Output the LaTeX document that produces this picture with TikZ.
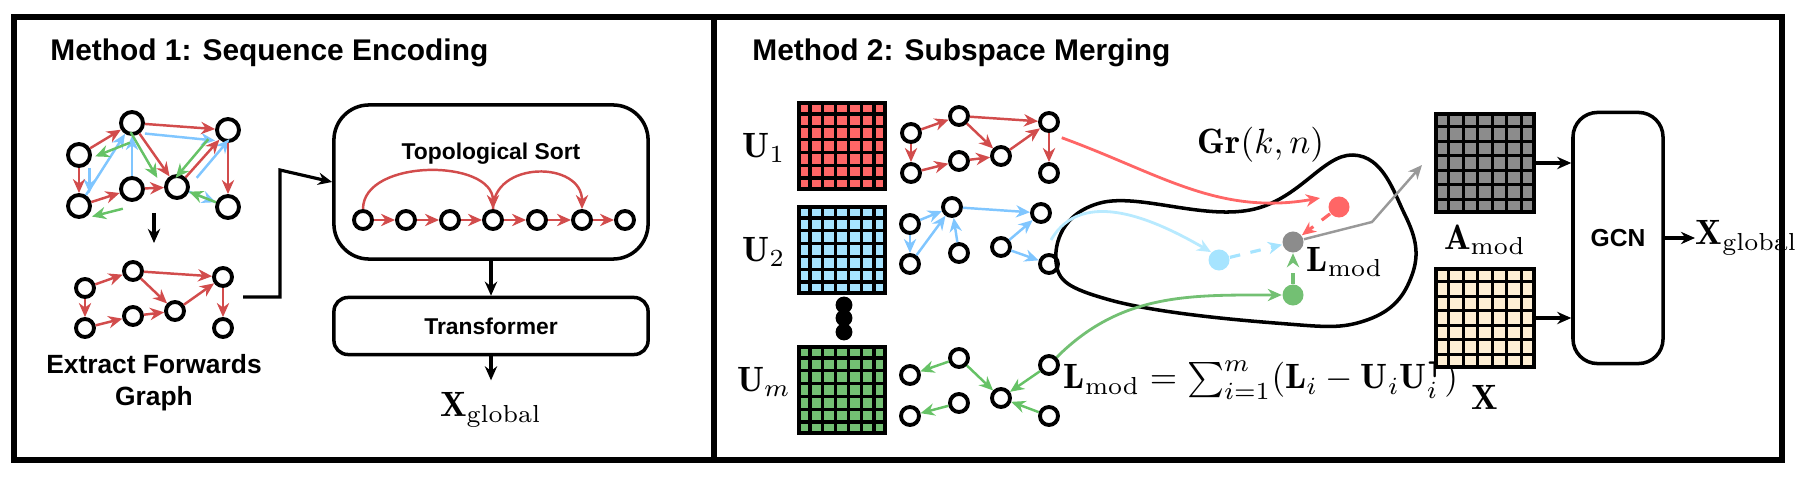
\documentclass[tikz,border=0pt]{standalone}
\usepackage{amsmath,amssymb}
\usepackage{fontspec}
\setsansfont{Liberation Sans}
\usetikzlibrary{calc,arrows.meta}
\tikzset{>={Stealth[length=4pt,width=3.5pt]}}
\colorlet{ered}{red!75!black!70!white}
\colorlet{eblue}{blue!45!cyan!50!white}
\colorlet{egreen}{green!60!black!60!white}
\colorlet{mred}{red!60!white}
\colorlet{mblue}{blue!30!cyan!35!white}
\colorlet{mgreen}{green!55!black!55!white}
\colorlet{mgray}{black!45}
\colorlet{myellow}{yellow!25!orange!15!white}
\tikzstyle{vtx}=[circle,draw,line width=1.1pt,minimum size=0.22cm,inner sep=0]
\tikzstyle{svtx}=[vtx,minimum size=0.18cm]
\tikzstyle{er}=[->,ered,line width=0.7pt]
\tikzstyle{eb}=[->,eblue,line width=0.7pt]
\tikzstyle{eg}=[->,egreen,line width=0.7pt]
\tikzstyle{box}=[draw,line width=1pt,rounded corners=8pt]
\tikzstyle{flow}=[->,line width=0.9pt]
\tikzstyle{title}=[font=\sffamily\bfseries\fontsize{8.5}{10}\selectfont,anchor=west]
\tikzstyle{lbl}=[font=\sffamily\bfseries\fontsize{6.5}{8}\selectfont,align=center]
\tikzstyle{dot}=[circle,minimum size=0.21cm,inner sep=0]
\tikzstyle{mat}=[draw,line width=1pt,minimum size=0.86cm,inner sep=0]
% 7x7 grid inside a matrix node
\def\grid#1{
  \foreach \i in {1,...,6}{
    \draw[line width=0.9pt] ($(#1.north west)!\i/7!(#1.north east)$) -- ($(#1.south west)!\i/7!(#1.south east)$);
    \draw[line width=0.9pt] ($(#1.north west)!\i/7!(#1.south west)$) -- ($(#1.north east)!\i/7!(#1.south east)$);
  }
}
% forward graph: #1 prefix, #2 x, #3 y, #4 edge style
\def\fwd#1#2#3#4{
  \node[svtx] (#1a) at (#2,#3+15) {};
  \node[svtx] (#1b) at (#2+48,#3-2) {};
  \node[svtx] (#1c) at (#2+138,#3+4) {};
  \node[svtx] (#1d) at (#2,#3+55) {};
  \node[svtx] (#1e) at (#2+48,#3+43) {};
  \node[svtx] (#1f) at (#2+90,#3+38) {};
  \node[svtx] (#1g) at (#2+138,#3+55) {};
}
\begin{document}
\begin{tikzpicture}[x=0.01cm,y=-0.01cm]
  \useasboundingbox (0,0) rectangle (1800,479);
  % PANELS
  \draw[line width=1.6pt] (14,17) rectangle (714,460);
  \draw[line width=1.6pt] (714,17) rectangle (1782,460);
  \node[title] (t1) at (38,53) {Method 1: Sequence Encoding};
  \node[title] (t2) at (740,53) {Method 2: Subspace Merging};

  % ORIGINAL GRAPH
  \node[vtx] (n1) at (79,155) {};
  \node[vtx] (n2) at (132,123) {};
  \node[vtx] (n3) at (228,130) {};
  \node[vtx] (n4) at (79,206) {};
  \node[vtx] (n5) at (132,189) {};
  \node[vtx] (n6) at (177,187) {};
  \node[vtx] (n7) at (228,207) {};
  \draw[eb] ([xshift=3]n1.south) -- ([xshift=3]n4.north);
  \draw[eb] (n4) -- (n2);
  \draw[eb] (n5) -- (n2);
  \draw[eb] ([yshift=-3]n2.east) -- ([yshift=-3]n3.west);
  \draw[eb] (n6) -- (n7);
  \draw[eb] ([xshift=3]n6.north east) -- ([xshift=3]n3.south west);
  \draw[eg] ([xshift=2,yshift=-3]n2.south west) -- ([xshift=2,yshift=-3]n1.north east);
  \draw[eg] ([yshift=-3]n5.south west) -- ([yshift=-3]n4.east);
  \draw[eg] ([xshift=-3]n2.south east) -- ([xshift=-3]n6.north west);
  \draw[eg] ([xshift=-3]n3.south west) -- ([xshift=-3]n6.north east);
  \draw[eg] (n7) -- (n6);
  \foreach \s/\t in {n1/n2,n2/n3,n1/n4,n4/n5,n5/n6,n2/n6,n6/n3,n3/n7}
    \draw[er] (\s) -- (\t);
  \coordinate (d1) at (154,213);
  \coordinate (d2) at (154,243);
  \draw[flow] (d1) -- (d2);

  % FORWARDS GRAPH
  \fwd{f}{85}{273}{er}
  \foreach \s/\t in {a/b,b/c,a/d,d/e,e/f,b/f,f/c,c/g}
    \draw[er] (f\s) -- (f\t);
  \node[lbl,font=\sffamily\bfseries\fontsize{7.5}{9}\selectfont] (fl) at (154,383) {Extract Forwards\\Graph};

  % TOPOLOGICAL SORT
  \node[box,minimum width=3.14cm,minimum height=1.54cm,rounded corners=10pt] (topo) at (491,182) {};
  \node[lbl] (tl) at (491,154) {Topological Sort};
  \foreach \x [count=\i] in {363,406,450,493,537,582,625}
    \node[svtx] (c\i) at (\x,220) {};
  \foreach \i [evaluate=\i as \j using int(\i+1)] in {1,...,6}
    \draw[er] (c\i) -- (c\j);
  \draw[er] (c1.north) to[out=90,in=90,looseness=1] (c4.north);
  \draw[er] (c4.north) to[out=90,in=90,looseness=1.4] (c6.north);
  \coordinate (e1) at (243,297);
  \draw[flow] (e1) -| (280,170) -- (topo.west);
  \node[box,minimum width=3.14cm,minimum height=0.57cm,rounded corners=4pt] (tr) at (491,326) {};
  \node[lbl] (trl) at (tr) {Transformer};
  \draw[flow] (topo) -- (tr);
  \node (xg1) at (491,410) {$\mathbf{X}_{\text{global}}$};
  \draw[flow] (tr) -- (xg1);

  % SUBSPACES
  \node (u1) at (764,148) {$\mathbf{U}_1$};
  \node (u2) at (764,252) {$\mathbf{U}_2$};
  \node (um) at (764,382) {$\mathbf{U}_m$};
  \node[mat,fill=mred] (m1) at (842,146) {};
  \node[mat,fill=mblue] (m2) at (842,250) {};
  \node[mat,fill=mgreen] (m3) at (842,390) {};
  \grid{m1} \grid{m2} \grid{m3}
  \foreach \y in {305,318,332}
    \fill (844,\y) circle (2.4pt);

  \fwd{r}{911}{118}{er}
  \foreach \s/\t in {a/b,b/c,a/d,d/e,e/f,b/f,f/c,c/g}
    \draw[er] (r\s) -- (r\t);
  \node[svtx] (p1) at (910,224) {};
  \node[svtx] (p2) at (952,207) {};
  \node[svtx] (p3) at (1041,213) {};
  \node[svtx] (p4) at (910,264) {};
  \node[svtx] (p5) at (959,253) {};
  \node[svtx] (p6) at (1001,247) {};
  \node[svtx] (p7) at (1049,264) {};
  \foreach \s/\t in {1/2,2/3,1/4,4/2,5/2,6/3,6/7}
    \draw[eb] (p\s) -- (p\t);
  \node[svtx] (q1) at (910,375) {};
  \node[svtx] (q2) at (959,358) {};
  \node[svtx] (q3) at (1049,365) {};
  \node[svtx] (q4) at (910,416) {};
  \node[svtx] (q5) at (959,403) {};
  \node[svtx] (q6) at (1001,398) {};
  \node[svtx] (q7) at (1049,416) {};
  \foreach \s/\t in {2/1,2/6,3/6,7/6,5/4}
    \draw[eg] (q\s) -- (q\t);

  % GRASSMANNIAN
  \draw[line width=1pt] plot[smooth cycle,tension=0.7] coordinates
    {(1100,203) (1250,210) (1353,155) (1405,215) (1412,275) (1367,320) (1275,323) (1110,300) (1056,262)};
  \node (gr) at (1261,145) {$\mathbf{Gr}(k,n)$};
  \node[dot,fill=mred] (pr) at (1339,207) {};
  \node[dot,fill=mgray] (pg) at (1293,242) {};
  \node[dot,fill=mblue] (pb) at (1219,260) {};
  \node[dot,fill=mgreen] (pm) at (1293,295) {};
  \node (lm) at (1345,262) {$\mathbf{L}_{\text{mod}}$};
  \coordinate (rt) at (1320,198);
  \draw[->,mred,line width=0.8pt] (rc.south east) ++(5,8) to[out=-20,in=190] (rt);
  \draw[->,mblue!80!white,line width=0.8pt] (1051,240) to[out=60,in=150] (pb.north west);
  \draw[->,mgreen,line width=0.8pt] (q3.north east) to[out=45,in=180] (pm.west);
  \draw[->,dashed,mred,line width=0.9pt] (pr) -- (pg);
  \draw[->,dashed,mblue,line width=0.9pt] (pb) -- (pg);
  \draw[->,dashed,mgreen,line width=0.9pt] (pm) -- (pg);
  \coordinate (gk) at (1372,222);
  \coordinate (ga) at (1422,165);
  \draw[->,black!40,line width=0.7pt] (pg) -- (gk) -- (ga);
  \node (lf) at (1261,380) {$\mathbf{L}_{\text{mod}}=\sum_{i=1}^{m}(\mathbf{L}_i-\mathbf{U}_i\mathbf{U}_i^{\intercal})$};

  % GCN
  \node[mat,fill=mgray,minimum size=0.98cm] (am) at (1485,163) {};
  \node[mat,fill=myellow,minimum size=0.98cm] (xm) at (1485,318) {};
  \grid{am} \grid{xm}
  \node (aml) at (1485,240) {$\mathbf{A}_{\text{mod}}$};
  \node (xml) at (1485,397) {$\mathbf{X}$};
  \node[box,minimum width=0.9cm,minimum height=2.51cm,rounded corners=7pt] (gcn) at (1618,238) {};
  \node[lbl,font=\sffamily\bfseries\fontsize{7}{8}\selectfont] (gcnl) at (gcn) {GCN};
  \draw[flow] (am.east) -- (am.east -| gcn.west);
  \draw[flow] (xm.east) -- (xm.east -| gcn.west);
  \node[anchor=west,inner sep=0] (xg2) at (1695,238) {$\mathbf{X}_{\text{global}}$};
  \draw[flow] (gcn) -- (xg2);
\end{tikzpicture}
\end{document}
